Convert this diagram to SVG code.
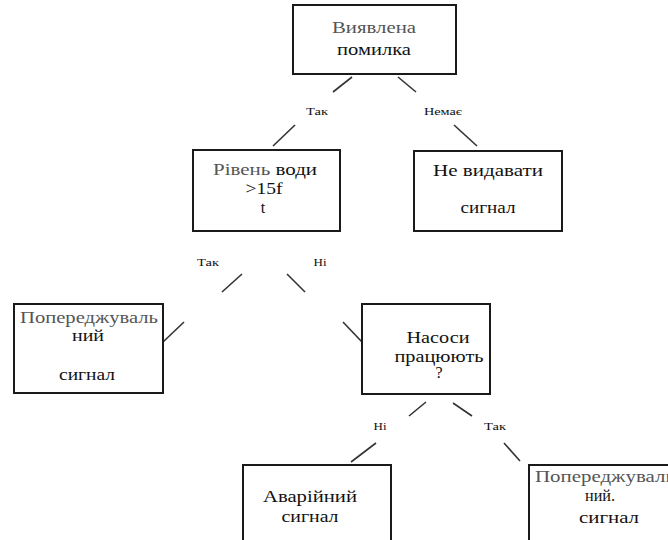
<svg xmlns="http://www.w3.org/2000/svg" width="668" height="540" viewBox="0 0 668 540">
<style>
  .box { fill: #fff; stroke: #1a1a1a; stroke-width: 2; }
  text { font-family: "Liberation Serif", "DejaVu Serif", "Times New Roman", serif; }
  .t { font-size: 16px; fill: #111; }
  .g { fill: #555; }
  .lbl { font-size: 10px; fill: #111; }
  .c line { stroke: #333; stroke-width: 1.6; }
</style>
<rect width="668" height="540" fill="#fff"/>

<g class="c" id="connectors">
  <line x1="352" y1="77" x2="333" y2="92"/>
  <line x1="398" y1="77" x2="416" y2="92"/>
  <line x1="295" y1="125" x2="273" y2="146"/>
  <line x1="454" y1="125" x2="477" y2="146"/>
  <line x1="242" y1="274" x2="222" y2="292"/>
  <line x1="287" y1="274" x2="305" y2="292"/>
  <line x1="184" y1="322" x2="163" y2="342"/>
  <line x1="343" y1="322" x2="362" y2="342"/>
  <line x1="426" y1="402" x2="409" y2="416"/>
  <line x1="453" y1="403" x2="472" y2="416"/>
  <line x1="376" y1="443" x2="351" y2="462"/>
  <line x1="504" y1="443" x2="520" y2="461"/>
</g>

<g id="labels" font-family="Liberation Serif, DejaVu Serif, serif">
  <text class="lbl" x="317" y="115" text-anchor="middle" textLength="22" lengthAdjust="spacingAndGlyphs">Так</text>
  <text class="lbl" x="443" y="115" text-anchor="middle" textLength="38" lengthAdjust="spacingAndGlyphs">Немає</text>
  <text class="lbl" x="208" y="266" text-anchor="middle" textLength="22" lengthAdjust="spacingAndGlyphs">Так</text>
  <text class="lbl" x="320" y="266" text-anchor="middle" textLength="13" lengthAdjust="spacingAndGlyphs">Hi</text>
  <text class="lbl" x="380" y="430" text-anchor="middle" textLength="13" lengthAdjust="spacingAndGlyphs">Hi</text>
  <text class="lbl" x="495" y="430" text-anchor="middle" textLength="22" lengthAdjust="spacingAndGlyphs">Так</text>
</g>

<g id="node-error">
  <rect class="box" x="293" y="5" width="163" height="69"/>
  <text class="t g" x="374" y="33" text-anchor="middle" textLength="84" lengthAdjust="spacingAndGlyphs">Виявлена</text>
  <text class="t" x="374" y="55" text-anchor="middle" textLength="74" lengthAdjust="spacingAndGlyphs">помилка</text>
</g>

<g id="node-level">
  <rect class="box" x="193" y="150" width="147" height="81"/>
  <text class="t" x="265" y="175" text-anchor="middle" textLength="104" lengthAdjust="spacingAndGlyphs"><tspan class="g">Рівень</tspan> води</text>
  <text class="t" x="264" y="194" text-anchor="middle" textLength="37" lengthAdjust="spacingAndGlyphs">&gt;15f</text>
  <text class="t" x="263" y="213" text-anchor="middle">t</text>
</g>

<g id="node-nosignal">
  <rect class="box" x="414" y="151" width="148" height="80"/>
  <text class="t" x="488" y="176" text-anchor="middle" textLength="110" lengthAdjust="spacingAndGlyphs">Не видавати</text>
  <text class="t" x="488" y="213" text-anchor="middle" textLength="55" lengthAdjust="spacingAndGlyphs">сигнал</text>
</g>

<g id="node-warning1">
  <rect class="box" x="14" y="304" width="149" height="89"/>
  <text class="t g" x="89" y="323" text-anchor="middle" textLength="138" lengthAdjust="spacingAndGlyphs">Попереджуваль</text>
  <text class="t" x="88" y="341" text-anchor="middle" textLength="32" lengthAdjust="spacingAndGlyphs">ний</text>
  <text class="t" x="87" y="380" text-anchor="middle" textLength="56" lengthAdjust="spacingAndGlyphs">сигнал</text>
</g>

<g id="node-pumps">
  <rect class="box" x="362" y="304" width="128" height="90"/>
  <text class="t" x="438" y="343" text-anchor="middle" textLength="63" lengthAdjust="spacingAndGlyphs">Насоси</text>
  <text class="t" x="439" y="362" text-anchor="middle" textLength="89" lengthAdjust="spacingAndGlyphs">працюють</text>
  <text class="t" x="439" y="378" text-anchor="middle">?</text>
</g>

<g id="node-alarm">
  <rect class="box" x="243" y="465" width="148" height="80"/>
  <text class="t" x="310" y="502" text-anchor="middle" textLength="94" lengthAdjust="spacingAndGlyphs">Аварійний</text>
  <text class="t" x="310" y="522" text-anchor="middle" textLength="57" lengthAdjust="spacingAndGlyphs">сигнал</text>
</g>

<g id="node-warning2">
  <rect class="box" x="529" y="465" width="150" height="80"/>
  <text class="t g" x="535" y="482" textLength="140" lengthAdjust="spacingAndGlyphs">Попереджуваль</text>
  <text class="t" x="600" y="501" text-anchor="middle" textLength="30" lengthAdjust="spacingAndGlyphs">ний.</text>
  <text class="t" x="609" y="523" text-anchor="middle" textLength="60" lengthAdjust="spacingAndGlyphs">сигнал</text>
</g>
</svg>
